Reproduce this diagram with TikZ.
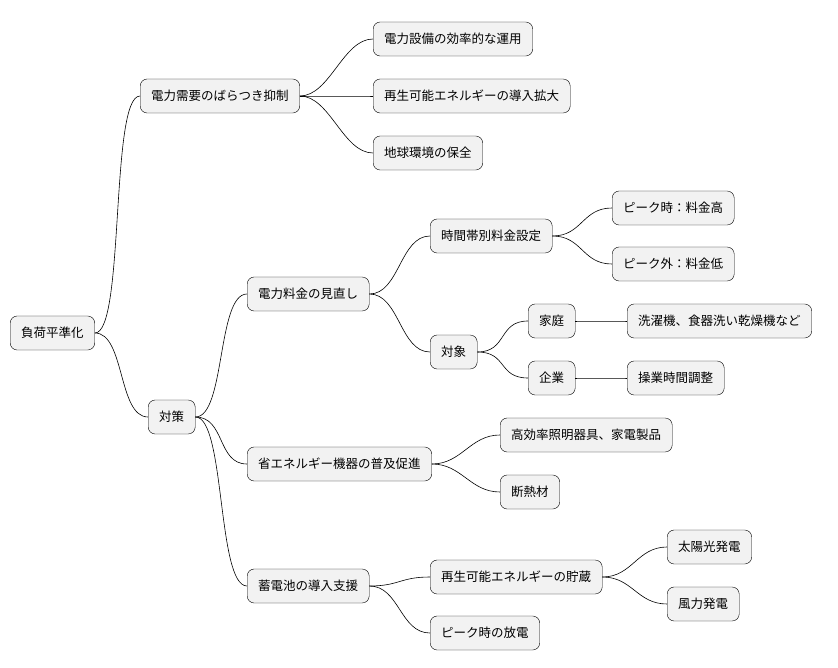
\documentclass[tikz,border=0pt]{standalone}
\usepackage{fontspec}
\setmainfont{Noto Sans CJK JP}
\begin{document}
\begin{tikzpicture}[x=1pt,y=-1pt,
  topic/.style={draw=black, fill=gray!10, rounded corners=7pt, anchor=west,
    inner xsep=11pt, minimum height=34pt, font=\fontsize{12.5}{14}\selectfont},
  link/.style={draw=black, line width=0.6pt}]
\useasboundingbox (0,0) rectangle (838,668);

% root and branches
\node[topic] (root) at (10,333) {負荷平準化};
\node[topic] (spread) at (140,96) {電力需要のばらつき抑制};
\node[topic] (eff) at (373,39) {電力設備の効率的な運用};
\node[topic] (renew) at (373,96) {再生可能エネルギーの導入拡大};
\node[topic] (earth) at (373,153) {地球環境の保全};
\node[topic] (measure) at (148,417) {対策};
\node[topic] (price) at (247,294) {電力料金の見直し};
\node[topic] (tou) at (430,236) {時間帯別料金設定};
\node[topic] (peakhi) at (612,208) {ピーク時：料金高};
\node[topic] (peaklo) at (612,264) {ピーク外：料金低};
\node[topic] (target) at (430,352) {対象};
\node[topic] (home) at (528,321) {家庭};
\node[topic] (appl) at (627,321) {洗濯機、食器洗い乾燥機など};
\node[topic] (corp) at (528,378) {企業};
\node[topic] (shift) at (627,378) {操業時間調整};
\node[topic] (saving) at (247,464) {省エネルギー機器の普及促進};
\node[topic] (light) at (500,435) {高効率照明器具、家電製品};
\node[topic] (insul) at (500,492) {断熱材};
\node[topic] (battery) at (247,586) {蓄電池の導入支援};
\node[topic] (store) at (430,577) {再生可能エネルギーの貯蔵};
\node[topic] (solar) at (667,547) {太陽光発電};
\node[topic] (wind) at (667,604) {風力発電};
\node[topic] (discharge) at (430,633) {ピーク時の放電};

% connectors
\foreach \p/\c in {root/spread, root/measure, spread/eff, spread/renew, spread/earth,
    measure/price, measure/saving, measure/battery, price/tou, price/target,
    tou/peakhi, tou/peaklo, target/home, target/corp, home/appl, corp/shift,
    saving/light, saving/insul, battery/store, battery/discharge,
    store/solar, store/wind}
  \draw[link] (\p.east) .. controls +(30,0) and +(-30,0) .. (\c.west);
\end{tikzpicture}
\end{document}
